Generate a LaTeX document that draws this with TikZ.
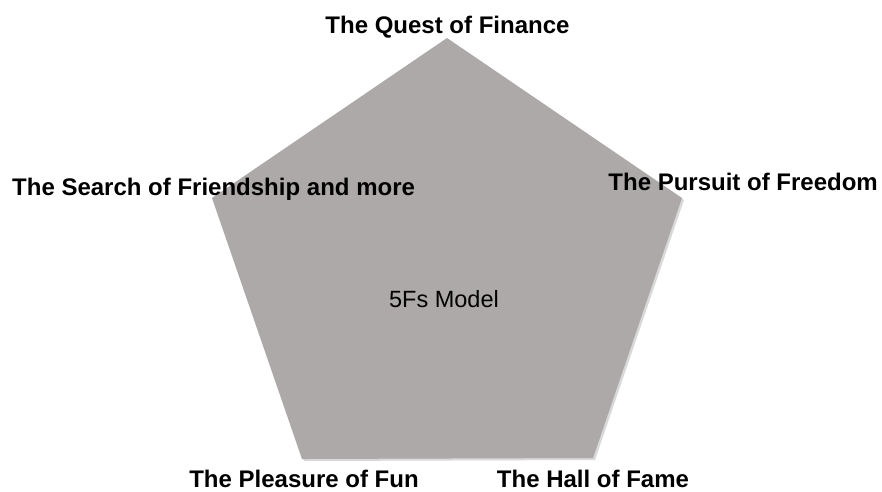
\documentclass[tikz,border=0pt]{standalone}
\usepackage{fontspec}
\setmainfont{Liberation Sans}
\usetikzlibrary{shadows}
\definecolor{pentafill}{RGB}{173,169,168}
\begin{document}
\begin{tikzpicture}[x=1pt,y=-1pt,
  lbl/.style={font=\fontsize{24}{28}\selectfont\bfseries, inner sep=0pt, text=black},
  center/.style={font=\fontsize{23.5}{26}\selectfont, inner sep=0pt, text=black}]
\useasboundingbox (0,0) rectangle (882,491);
\coordinate (pt) at (447,38);
\coordinate (pr) at (682,198);
\coordinate (pbr) at (593,458);
\coordinate (pbl) at (302,459);
\coordinate (pl) at (212,198);
\fill[pentafill, drop shadow={shadow xshift=2pt, shadow yshift=-2pt, opacity=0.25, fill=black!60}]
  (pt) -- (pr) -- (pbr) -- (pbl) -- (pl) -- cycle;
\node[lbl, anchor=base] (q) at (447.5,33) {The Quest of Finance};
\node[lbl, anchor=base west] (s) at (12,195) {The Search of Friendship and more};
\node[lbl, anchor=base east] (p) at (878,190) {The Pursuit of Freedom};
\node[center, anchor=base] (m) at (444,307) {5Fs Model};
\node[lbl, anchor=base, text depth=0pt] (f) at (304,487) {The Pleasure of Fun};
\node[lbl, anchor=base, text depth=0pt] (h) at (593,487) {The Hall of Fame};
\end{tikzpicture}
\end{document}
